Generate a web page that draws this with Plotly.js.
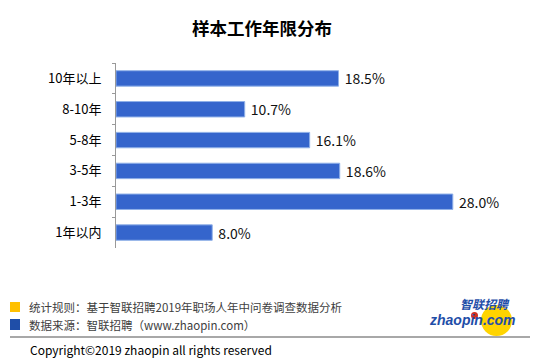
<!DOCTYPE html>
<html><head><meta charset="utf-8">
<script src="https://cdn.plot.ly/plotly-3.0.1.min.js"></script>
<style>html,body{margin:0;padding:0;background:#fff}#c{width:554px;height:362px}</style>
</head><body><div id="c"></div>
<script>
const categories = ['10年以上','8-10年','5-8年','3-5年','1-3年','1年以内'];
const values = [18.5, 10.7, 16.1, 18.6, 28.0, 8.0];
const labels = ['18.5%','10.7%','16.1%','18.6%','28.0%','8.0%'];
const titleText = '样本工作年限分布';
const note1 = '统计规则：基于智联招聘2019年职场人年中问卷调查数据分析';
const note2 = '数据来源：智联招聘（www.zhaopin.com）';
const copyright = 'Copyright©2019 zhaopin all rights reserved';

const font = 'Noto Sans CJK SC, Noto Sans, sans-serif';
const W = 421, H = 185, L = 116, B = 248;
const px = x => (x - L) / W;
const py = y => (B - y) / H;
const trace = {
  type:'bar', orientation:'h', x: values, y: categories,
  marker:{color:'#3565CC', line:{color:'#8FB0E8', width:1}},
  text: labels.map(s=>'\u00a0'+s), textposition:'outside', cliponaxis:false, constraintext:'none',
  textfont:{family:font, size:14, color:'#111'}, hoverinfo:'none'
};
const layout = {
  width:554, height:362, paper_bgcolor:'#fff', plot_bgcolor:'#fff',
  margin:{l:116, r:17, t:63, b:114, pad:0},
  bargap:0.5, showlegend:false,
  title:{text:'<b>'+titleText+'</b>', x:0.473, xanchor:'center', y:0.92, yanchor:'middle', font:{family:font, size:17.5, color:'#000'}},
  xaxis:{range:[0,35], visible:false, fixedrange:true},
  yaxis:{autorange:'reversed', type:'category', showline:true, linecolor:'#999', linewidth:1,
    ticks:'outside', ticklen:3, tickcolor:'#999', tickson:'boundaries', ticklabelstandoff:11,
    tickfont:{family:font, size:13, color:'#000'}, showgrid:false, zeroline:false},
  shapes:[
    {type:'rect', xref:'paper', yref:'paper', x0:px(10), x1:px(20), y0:py(302), y1:py(312), fillcolor:'#FFC000', line:{width:0}},
    {type:'rect', xref:'paper', yref:'paper', x0:px(10), x1:px(20), y0:py(319), y1:py(330), fillcolor:'#1F4EA8', line:{width:0}},
    {type:'rect', xref:'paper', yref:'paper', x0:px(10), x1:px(530), y0:py(336), y1:py(338), fillcolor:'#A8A8A8', line:{width:0}},
    {type:'circle', xref:'paper', yref:'paper', x0:px(481), x1:px(512), y0:py(305), y1:py(336), fillcolor:'#FFD400', line:{width:0}},
    {type:'circle', xref:'paper', yref:'paper', x0:px(471), x1:px(478), y0:py(312), y1:py(319), fillcolor:'#D03020', line:{width:0}}
  ],
  annotations:[
    {text:note1, xref:'paper', yref:'paper', x:px(27), y:py(307), xanchor:'left', yanchor:'middle', showarrow:false, font:{family:font, size:11.5, color:'#404040'}},
    {text:note2, xref:'paper', yref:'paper', x:px(27), y:py(325), xanchor:'left', yanchor:'middle', showarrow:false, font:{family:font, size:11.5, color:'#404040'}},
    {text:copyright, xref:'paper', yref:'paper', x:px(28), y:py(349), xanchor:'left', yanchor:'middle', showarrow:false, font:{family:font, size:12, color:'#000'}},
    {text:'<b><i>智联招聘</i></b>', xref:'paper', yref:'paper', x:px(512), y:py(303), xanchor:'right', yanchor:'middle', showarrow:false, font:{family:font, size:12, color:'#1F4EA8'}},
    {text:'<b><i>zhaopin.com</i></b>', xref:'paper', yref:'paper', x:px(518), y:py(320), xanchor:'right', yanchor:'middle', showarrow:false, font:{family:'Liberation Sans, Arial, sans-serif', size:14, color:'#1F4EA8'}}
  ]
};
Plotly.newPlot('c',[trace],layout,{staticPlot:true, displayModeBar:false});
</script></body></html>
